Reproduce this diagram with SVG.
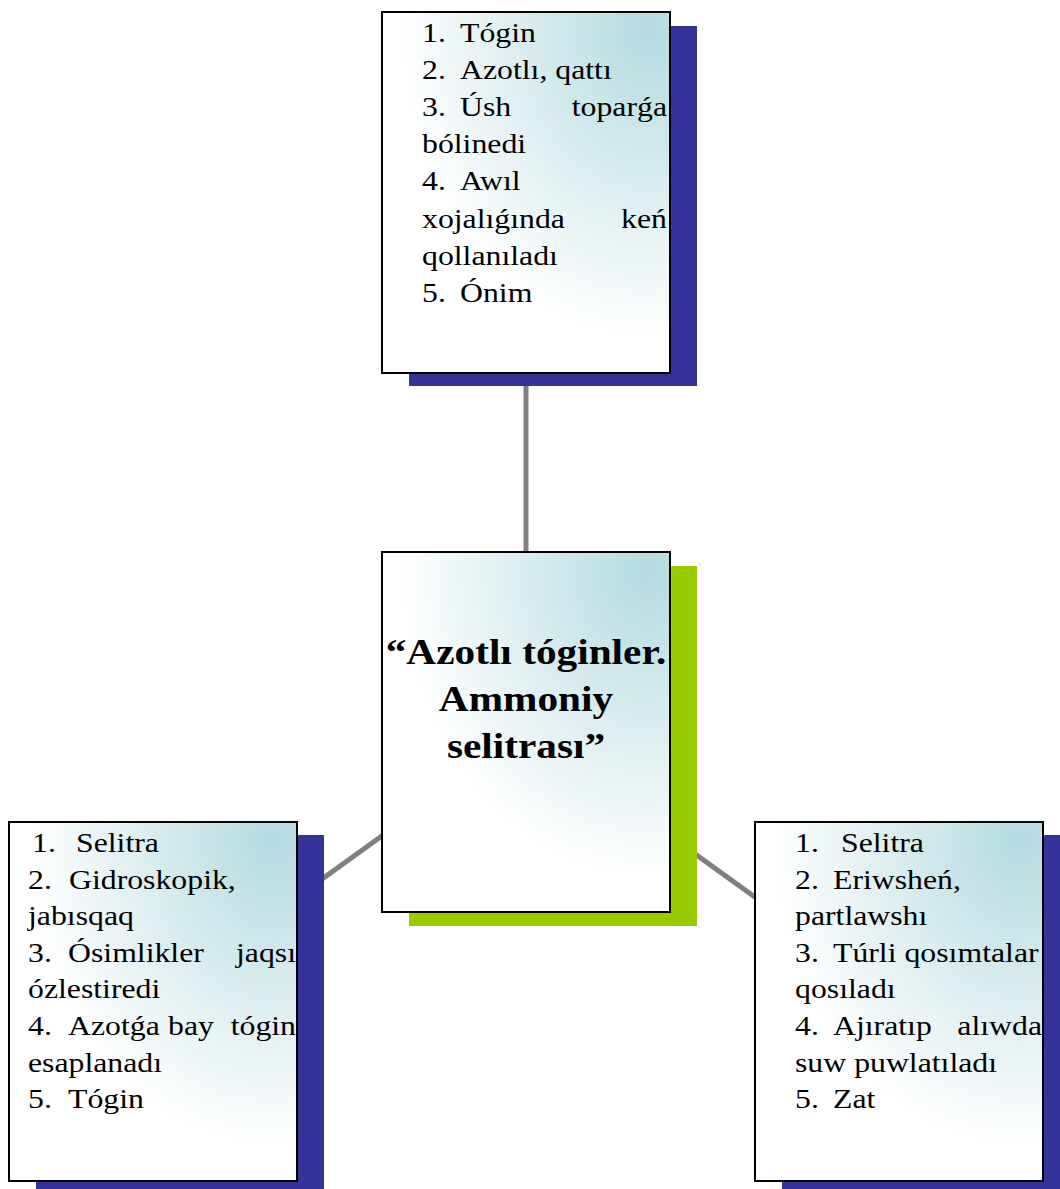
<svg xmlns="http://www.w3.org/2000/svg" width="1060" height="1189" viewBox="0 0 1060 1189">
<style>
.t{font-family:"Liberation Serif","Times New Roman",serif;font-size:28px;fill:#000}
.h{font-family:"Liberation Serif","Times New Roman",serif;font-size:35px;font-weight:bold;fill:#000;text-anchor:middle}
.e{text-anchor:end}
.box{fill:url(#g);stroke:#000;stroke-width:2}
.sh{fill:#333399}
.shg{fill:#99cc00}
.c{stroke:#808080;stroke-width:5;fill:none}
</style>
<defs>
<radialGradient id="g" cx="0.92" cy="0.05" r="0.85" fx="0.92" fy="0.05">
<stop offset="0" stop-color="#b4dbe0"/>
<stop offset="0.4" stop-color="#d2e9ec"/>
<stop offset="1" stop-color="#ffffff"/>
</radialGradient>
</defs>
<rect width="1060" height="1189" fill="#fff"/>
<g id="connectors">
<line class="c" x1="526" y1="192" x2="526" y2="732"/>
<line class="c" x1="526" y1="732" x2="153" y2="1001"/>
<line class="c" x1="526" y1="732" x2="899" y2="1001"/>
</g>
<g id="top">
<rect class="sh" x="409" y="26" width="288" height="360"/>
<rect class="box" x="382" y="12" width="288" height="361"/>
<text class="t" transform="translate(422 42) scale(1.135 1)">1.</text>
<text class="t" transform="translate(460 42) scale(1.135 1)">Tógin</text>
<text class="t" transform="translate(422 79) scale(1.135 1)">2.</text>
<text class="t" transform="translate(460 79) scale(1.135 1)">Azotlı, qattı</text>
<text class="t" transform="translate(422 116) scale(1.135 1)">3.</text>
<text class="t" transform="translate(460 116) scale(1.135 1)">Úsh</text>
<text class="t e" transform="translate(667 116) scale(1.135 1)">topar&#x1F5;a</text>
<text class="t" transform="translate(422 153) scale(1.135 1)">bólinedi</text>
<text class="t" transform="translate(422 190) scale(1.135 1)">4.</text>
<text class="t" transform="translate(460 190) scale(1.135 1)">Awıl</text>
<text class="t" transform="translate(422 228) scale(1.135 1)">xojalı&#x1F5;ında</text>
<text class="t e" transform="translate(667 228) scale(1.135 1)">keń</text>
<text class="t" transform="translate(422 265) scale(1.135 1)">qollanıladı</text>
<text class="t" transform="translate(422 302) scale(1.135 1)">5.</text>
<text class="t" transform="translate(460 302) scale(1.135 1)">Ónim</text>
</g>
<g id="center">
<rect class="shg" x="409" y="566" width="288" height="360"/>
<rect class="box" x="382" y="552" width="288" height="360"/>
<text class="h" transform="translate(526 664) scale(1.18 1)">“Azotlı tóginler.</text>
<text class="h" transform="translate(526 711) scale(1.18 1)">Ammoniy</text>
<text class="h" transform="translate(526 758) scale(1.18 1)">selitrası”</text>
</g>
<g id="left">
<rect class="sh" x="36" y="835" width="288" height="360"/>
<rect class="box" x="9" y="822" width="288" height="359"/>
<text class="t" transform="translate(32 852) scale(1.135 1)">1.</text>
<text class="t" transform="translate(76 852) scale(1.135 1)">Selitra</text>
<text class="t" transform="translate(28 888.6) scale(1.135 1)">2.</text>
<text class="t" transform="translate(69 888.6) scale(1.135 1)">Gidroskopik,</text>
<text class="t" transform="translate(28 925.2) scale(1.135 1)">jabısqaq</text>
<text class="t" transform="translate(28 961.8) scale(1.135 1)">3.</text>
<text class="t" transform="translate(68 961.8) scale(1.135 1)">Ósimlikler</text>
<text class="t e" transform="translate(296 961.8) scale(1.135 1)">jaqsı</text>
<text class="t" transform="translate(28 998.4) scale(1.135 1)">ózlestiredi</text>
<text class="t" transform="translate(28 1035) scale(1.135 1)">4.</text>
<text class="t" transform="translate(68 1035) scale(1.135 1)">Azot&#x1F5;a</text>
<text class="t" transform="translate(168 1035) scale(1.135 1)">bay</text>
<text class="t e" transform="translate(296 1035) scale(1.135 1)">tógin</text>
<text class="t" transform="translate(28 1071.6) scale(1.135 1)">esaplanadı</text>
<text class="t" transform="translate(28 1108.2) scale(1.135 1)">5.</text>
<text class="t" transform="translate(68 1108.2) scale(1.135 1)">Tógin</text>
</g>
<g id="right">
<rect class="sh" x="782" y="835" width="288" height="360"/>
<rect class="box" x="755" y="822" width="288" height="359"/>
<text class="t" transform="translate(795 852) scale(1.135 1)">1.</text>
<text class="t" transform="translate(841 852) scale(1.135 1)">Selitra</text>
<text class="t" transform="translate(795 888.6) scale(1.135 1)">2.</text>
<text class="t" transform="translate(833 888.6) scale(1.135 1)">Eriwsheń,</text>
<text class="t" transform="translate(795 925.2) scale(1.135 1)">partlawshı</text>
<text class="t" transform="translate(795 961.8) scale(1.135 1)">3.</text>
<text class="t" transform="translate(833 961.8) scale(1.135 1)">Túrli qosımtalar</text>
<text class="t" transform="translate(795 998.4) scale(1.135 1)">qosıladı</text>
<text class="t" transform="translate(795 1035) scale(1.135 1)">4.</text>
<text class="t" transform="translate(833 1035) scale(1.135 1)">Ajıratıp</text>
<text class="t e" transform="translate(1042 1035) scale(1.135 1)">alıwda</text>
<text class="t" transform="translate(795 1071.6) scale(1.135 1)">suw puwlatıladı</text>
<text class="t" transform="translate(795 1108.2) scale(1.135 1)">5.</text>
<text class="t" transform="translate(833 1108.2) scale(1.135 1)">Zat</text>
</g>
</svg>
